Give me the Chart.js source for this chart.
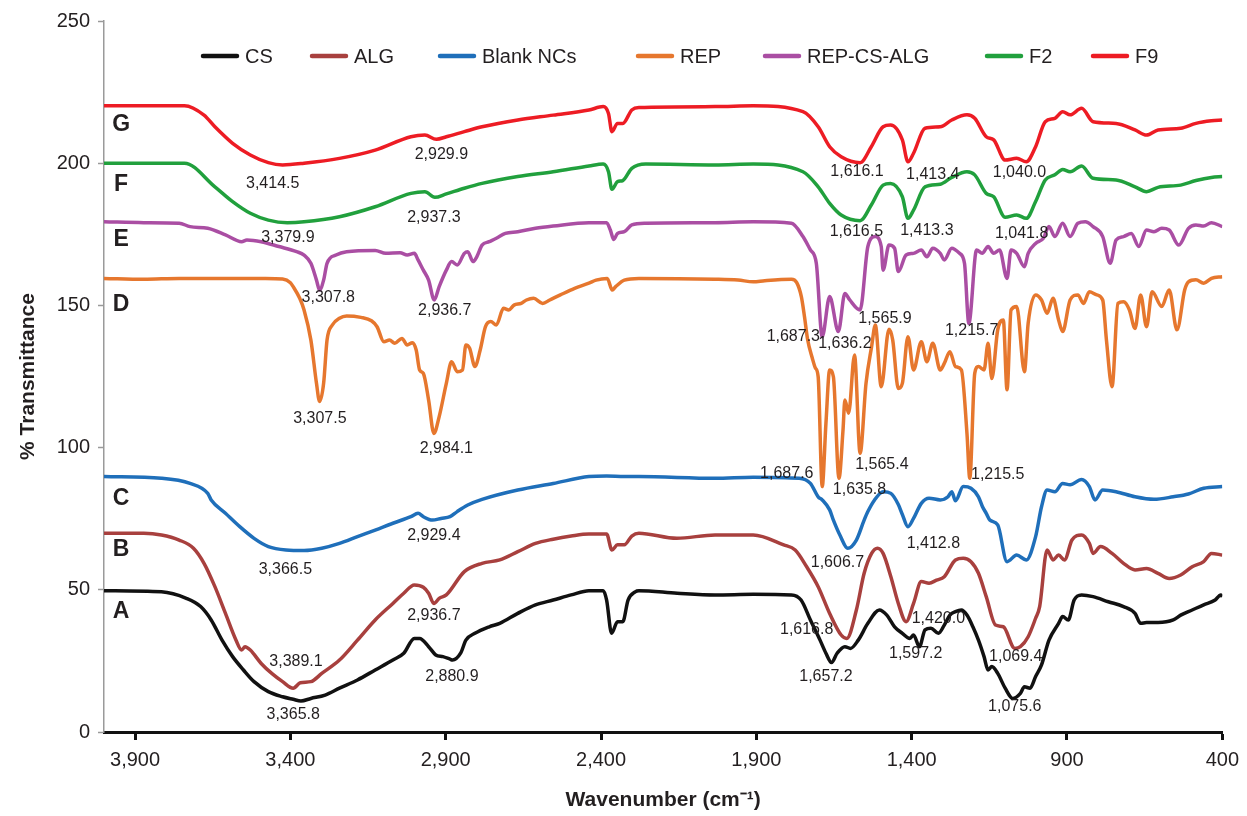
<!DOCTYPE html>
<html>
<head>
<meta charset="utf-8">
<title>FTIR spectra</title>
<script src="https://cdn.jsdelivr.net/npm/chart.js@4.4.1/dist/chart.umd.min.js"></script>
<style>
  html, body { margin: 0; padding: 0; background: #fff; }
  #wrap { width: 1247px; height: 816px; }
</style>
</head>
<body>
<div id="wrap"><canvas id="ftir" width="1247" height="816"></canvas></div>
<script>
// [wavenumber cm-1, % transmittance] – traces are stacked with their offsets already in
const CS = [[4000,49.7],[3815,49.3],[3735,47.0],[3689,44.1],[3655,39.4],[3620,32.3],[3586,26.5],[3551,21.8],[3517,17.7],[3471,14.2],[3425,12.4],[3391,11.5],[3366,10.9],[3334,11.8],[3288,13.0],[3242,15.4],[3184,18.3],[3127,21.8],[3070,25.3],[3035,27.7],[3001,32.9],[2984,32.9],[2955,30.0],[2932,27.1],[2909,26.5],[2886,25.6],[2878,25.3],[2852,27.7],[2835,32.3],[2806,34.7],[2760,37.0],[2726,38.2],[2668,41.7],[2611,44.7],[2554,46.4],[2496,48.2],[2439,49.7],[2393,49.7],[2382,46.4],[2366,34.7],[2347,38.8],[2330,38.8],[2313,46.4],[2290,49.3],[2278,49.7],[2155,48.8],[2033,48.2],[1910,48.4],[1787,48.2],[1756,46.4],[1726,39.4],[1695,32.3],[1676,27.7],[1658,24.4],[1640,27.7],[1615,30.0],[1597,29.4],[1572,32.3],[1541,38.2],[1504,42.9],[1480,41.1],[1455,37.0],[1430,34.7],[1406,32.9],[1394,34.1],[1375,30.0],[1357,35.9],[1338,36.5],[1314,34.7],[1295,37.6],[1277,41.1],[1259,42.3],[1240,42.9],[1222,41.1],[1203,37.0],[1185,32.3],[1167,26.5],[1154,21.8],[1142,23.0],[1123,20.6],[1099,15.4],[1075,11.8],[1050,13.6],[1037,15.9],[1019,15.4],[1001,19.5],[982,23.6],[958,32.3],[927,38.2],[914,40.6],[896,39.4],[877,46.4],[853,48.2],[816,47.6],[767,45.8],[718,44.1],[681,41.7],[663,38.2],[644,38.5],[607,38.5],[558,39.4],[534,41.1],[497,42.9],[460,44.7],[423,46.4],[405,48.2],[400,47.6]];

const ALG = [[4000,69.9],[3872,69.9],[3815,69.3],[3758,67.5],[3712,64.6],[3678,59.3],[3643,51.1],[3609,41.7],[3575,32.3],[3557,28.8],[3546,30.0],[3529,28.8],[3494,24.1],[3460,20.6],[3425,17.7],[3391,15.4],[3368,17.3],[3334,17.7],[3299,20.6],[3242,25.3],[3184,32.3],[3127,39.4],[3070,45.2],[3035,48.8],[3001,51.7],[2972,50.9],[2955,48.8],[2938,45.2],[2921,47.0],[2898,48.2],[2840,56.4],[2783,59.3],[2726,60.5],[2668,63.4],[2611,66.3],[2554,67.8],[2496,68.9],[2439,69.6],[2382,69.6],[2365,64.0],[2347,65.8],[2325,65.8],[2301,68.9],[2278,69.9],[2156,68.1],[2033,69.3],[1910,69.3],[1812,65.8],[1775,64.0],[1738,58.1],[1701,51.1],[1664,41.7],[1627,34.1],[1609,32.9],[1578,42.9],[1553,55.8],[1529,62.8],[1510,64.6],[1492,62.8],[1467,54.6],[1443,45.2],[1418,38.8],[1394,45.2],[1369,52.9],[1344,52.3],[1320,53.4],[1295,54.6],[1259,60.5],[1234,61.1],[1209,59.9],[1185,55.8],[1160,47.6],[1130,37.6],[1105,37.0],[1068,29.4],[1050,30.0],[1025,33.5],[1001,40.0],[988,44.1],[964,64.0],[945,60.5],[927,62.2],[908,60.5],[884,67.5],[853,69.3],[828,66.3],[816,62.8],[792,65.2],[755,62.8],[718,59.3],[681,57.0],[644,57.5],[607,55.8],[571,54.0],[534,55.2],[497,58.1],[460,59.9],[435,62.8],[400,62.2]];

const BLANK_NCS = [[4000,89.8],[3815,89.2],[3723,87.4],[3666,83.9],[3655,81.6],[3609,76.9],[3563,72.2],[3517,68.1],[3471,65.2],[3414,64.0],[3356,63.8],[3299,64.6],[3242,66.3],[3184,68.7],[3127,71.0],[3070,73.4],[3012,75.7],[2989,76.9],[2972,75.7],[2943,74.5],[2915,75.1],[2886,75.7],[2863,77.5],[2829,79.8],[2783,81.8],[2668,85.1],[2554,87.4],[2439,89.8],[2382,90.0],[2325,89.8],[2278,89.8],[2033,89.2],[1910,89.6],[1762,89.2],[1726,87.4],[1701,82.7],[1688,81.6],[1664,78.1],[1652,74.5],[1630,69.0],[1606,64.6],[1578,67.5],[1553,74.5],[1541,77.5],[1520,81.5],[1492,84.5],[1467,83.9],[1443,80.0],[1430,76.5],[1412,72.2],[1394,75.1],[1369,80.4],[1344,82.2],[1308,81.6],[1283,82.7],[1271,84.5],[1259,81.3],[1234,86.3],[1209,85.7],[1185,82.7],[1172,79.2],[1160,76.9],[1148,74.5],[1123,72.8],[1093,59.9],[1062,62.2],[1031,60.5],[1001,68.7],[982,79.2],[964,85.1],[939,84.5],[914,87.4],[890,86.9],[853,88.8],[828,86.3],[810,81.6],[785,85.1],[742,84.5],[681,82.7],[620,81.8],[558,82.7],[509,83.7],[460,85.7],[400,86.3]];

const REP = [[4000,159.5],[3872,159.2],[3758,159.5],[3600,159.5],[3480,159.5],[3425,159.3],[3400,158.0],[3391,156.6],[3370,152.5],[3356,148.4],[3334,137.8],[3316,122.6],[3306,116.2],[3293,122.6],[3282,137.8],[3265,143.1],[3242,145.5],[3219,146.3],[3173,145.8],[3139,144.6],[3121,142.5],[3099,137.2],[3081,137.8],[3064,136.7],[3041,138.4],[3024,136.1],[3007,136.9],[2995,134.3],[2984,127.3],[2972,126.1],[2955,116.7],[2938,105.0],[2921,110.9],[2898,122.6],[2881,130.2],[2863,126.7],[2846,127.3],[2835,136.1],[2823,134.9],[2806,128.5],[2789,134.3],[2772,142.5],[2755,144.3],[2737,143.1],[2714,149.0],[2697,148.4],[2680,150.1],[2657,150.7],[2640,151.9],[2617,152.5],[2588,150.7],[2565,151.9],[2531,153.7],[2485,156.0],[2439,157.8],[2416,158.9],[2380,159.5],[2364,155.4],[2353,156.6],[2325,158.9],[2278,159.5],[2033,159.2],[1959,158.9],[1910,158.3],[1873,158.7],[1787,159.2],[1770,158.0],[1755,153.0],[1745,146.0],[1735,138.0],[1720,131.5],[1710,128.0],[1701,124.9],[1688,86.3],[1676,108.5],[1664,127.3],[1652,124.9],[1634,89.2],[1621,106.2],[1615,116.7],[1603,112.1],[1584,132.6],[1566,98.0],[1547,122.6],[1529,135.5],[1517,143.1],[1498,121.4],[1473,141.6],[1461,137.8],[1443,120.8],[1430,122.6],[1412,139.0],[1394,127.3],[1369,137.2],[1351,130.2],[1332,136.7],[1308,127.3],[1295,129.6],[1277,133.7],[1259,128.5],[1240,127.3],[1222,105.0],[1213,89.2],[1197,126.1],[1185,128.5],[1167,127.3],[1154,136.7],[1142,124.3],[1123,141.4],[1105,144.9],[1093,120.3],[1080,148.4],[1062,149.6],[1037,126.7],[1025,143.7],[1001,153.7],[982,151.9],[964,147.2],[945,152.5],[927,144.9],[914,140.8],[890,151.9],[865,153.7],[847,150.7],[828,154.8],[804,153.7],[785,151.9],[773,137.8],[755,121.4],[736,150.7],[718,151.3],[699,148.4],[681,141.9],[663,153.7],[644,142.5],[626,154.8],[595,149.6],[571,155.4],[546,141.4],[521,155.5],[509,158.3],[485,159.0],[460,157.8],[435,159.5],[400,160.1]];

const REP_CS_ALG = [[4000,179.4],[3872,179.1],[3758,178.9],[3723,177.7],[3666,177.1],[3609,174.8],[3557,172.4],[3540,173.0],[3494,172.4],[3437,170.7],[3380,168.9],[3356,167.7],[3334,164.8],[3316,158.9],[3306,155.4],[3293,158.9],[3282,164.8],[3253,167.7],[3219,168.9],[3127,169.3],[3093,168.3],[3047,168.5],[3024,167.7],[3001,168.3],[2989,166.0],[2972,162.4],[2955,158.9],[2937,151.9],[2921,156.6],[2898,162.4],[2881,165.4],[2863,164.2],[2840,168.3],[2829,168.9],[2812,165.4],[2800,167.1],[2783,171.2],[2760,172.4],[2737,173.6],[2708,175.3],[2668,175.9],[2611,177.1],[2554,177.9],[2439,179.1],[2382,179.1],[2370,176.5],[2359,173.2],[2347,175.3],[2325,175.9],[2301,178.3],[2256,178.9],[2033,179.1],[1910,179.4],[1787,178.9],[1750,174.2],[1726,169.5],[1707,164.8],[1688,139.0],[1664,153.1],[1636,140.8],[1615,154.2],[1600,152.0],[1566,148.4],[1541,170.7],[1517,174.2],[1498,170.7],[1492,162.4],[1473,171.2],[1455,170.1],[1443,161.9],[1418,167.7],[1394,168.3],[1369,169.5],[1351,167.1],[1332,170.1],[1308,168.3],[1295,166.0],[1271,170.1],[1246,168.3],[1230,164.8],[1216,143.7],[1191,169.5],[1173,168.3],[1154,170.7],[1136,168.3],[1117,169.5],[1093,159.5],[1080,169.5],[1062,168.3],[1037,163.6],[1025,168.3],[1001,171.8],[976,173.6],[958,177.7],[939,174.2],[914,178.9],[890,174.2],[865,178.9],[841,179.4],[816,177.7],[785,174.2],[761,164.8],[742,173.0],[718,174.2],[693,175.3],[669,170.7],[644,176.5],[620,175.9],[595,177.1],[571,176.5],[540,171.2],[509,177.1],[485,178.3],[460,177.9],[435,179.1],[400,177.7]];

const F2 = [[4000,200.0],[3741,200.0],[3643,191.7],[3586,186.5],[3529,182.4],[3471,180.0],[3410,179.1],[3356,179.4],[3242,181.2],[3127,184.7],[3012,189.4],[2967,190.0],[2935,188.0],[2898,189.2],[2840,191.2],[2783,192.9],[2668,195.3],[2554,197.0],[2439,199.0],[2393,199.7],[2376,197.0],[2365,190.8],[2347,193.5],[2330,193.9],[2301,198.2],[2256,199.7],[2033,199.4],[1910,199.7],[1750,197.0],[1701,191.7],[1664,185.9],[1627,181.8],[1566,179.8],[1530,185.3],[1492,192.3],[1468,192.9],[1430,188.2],[1412,180.6],[1394,183.5],[1357,191.7],[1308,192.6],[1271,195.0],[1222,197.0],[1197,195.9],[1160,189.4],[1136,188.2],[1099,181.0],[1062,181.8],[1031,180.6],[1001,186.5],[970,194.1],[939,195.9],[914,197.8],[890,197.0],[853,199.0],[816,194.7],[742,194.1],[681,191.7],[644,190.0],[607,191.5],[534,192.3],[485,193.9],[435,195.0],[400,195.3]];

const F9 = [[4000,220.2],[3741,220.2],[3678,216.9],[3643,212.8],[3586,207.0],[3529,202.9],[3471,200.2],[3425,199.4],[3356,200.0],[3242,201.7],[3127,204.6],[3012,209.3],[2967,209.9],[2930,208.4],[2898,209.3],[2840,211.1],[2783,212.8],[2668,215.2],[2554,216.9],[2439,218.7],[2393,219.9],[2376,217.5],[2365,211.1],[2347,214.0],[2330,214.0],[2301,218.7],[2278,219.6],[2033,219.9],[1910,220.2],[1750,218.1],[1701,212.8],[1664,205.8],[1627,202.3],[1566,200.2],[1530,205.8],[1492,212.8],[1468,213.4],[1430,208.2],[1412,200.5],[1394,203.5],[1357,212.3],[1308,212.8],[1271,215.2],[1222,217.0],[1197,215.8],[1160,209.3],[1136,208.2],[1099,201.1],[1062,201.7],[1031,200.5],[1001,205.8],[970,214.6],[939,215.8],[914,218.1],[890,217.0],[853,219.3],[816,214.6],[742,214.0],[681,211.7],[644,209.9],[607,211.7],[534,212.3],[485,214.0],[435,214.9],[400,215.2]];

const seriesNames = ["CS", "ALG", "Blank NCs", "REP", "REP-CS-ALG", "F2", "F9"];
const seriesData = [CS, ALG, BLANK_NCS, REP, REP_CS_ALG, F2, F9];
const xTicks = [3900, 3400, 2900, 2400, 1900, 1400, 900, 400];

// trace letters, placed just under each baseline (letter, transmittance)
const rowLetters = [["A", 42.2], ["B", 64.0], ["C", 81.9], ["D", 150.1], ["E", 173.0], ["F", 192.3], ["G", 213.4]];

// peak annotations: text, wavenumber, transmittance where the text sits
const peakNotes = [
  ["2,929.9", 2914, 202.9], ["3,414.5", 3457, 192.7], ["2,937.3", 2938, 181.0], ["3,379.9", 3408, 173.9],
  ["3,307.8", 3278, 152.9], ["2,936.7", 2903, 148.1], ["3,307.5", 3305, 110.3], ["2,984.1", 2898, 99.5],
  ["3,366.5", 3416, 57.0], ["2,929.4", 2938, 68.9], ["2,936.7", 2938, 41.1], ["3,389.1", 3382, 24.7],
  ["2,880.9", 2880, 19.4], ["3,365.8", 3391, 6.0],
  ["1,616.1", 1576, 197.0], ["1,413.4", 1332, 195.9], ["1,040.0", 1053, 196.7],
  ["1,616.5", 1578, 175.9], ["1,413.3", 1351, 176.3], ["1,041.8", 1046, 175.4],
  ["1,687.3", 1781, 139.2], ["1,636.2", 1615, 136.4], ["1,565.9", 1486, 145.5], ["1,215.7", 1207, 141.1],
  ["1,687.6", 1802, 91.0], ["1,635.8", 1568, 85.1], ["1,565.4", 1496, 93.9], ["1,215.5", 1123, 90.4],
  ["1,606.7", 1639, 59.5], ["1,412.8", 1330, 66.4], ["1,616.8", 1738, 36.1], ["1,420.0", 1314, 40.0],
  ["1,597.2", 1387, 27.4], ["1,657.2", 1676, 19.4], ["1,069.4", 1065, 26.5], ["1,075.6", 1068, 8.9]
];

const colors = ["#111111", "#a8403e", "#1f6fba", "#e6772e", "#aa4ea3", "#21a03d", "#ed1c24"];
const legendX = [203, 312, 440, 638, 765, 987, 1093];

const FONT = '"Liberation Sans", Arial, Helvetica, sans-serif';
const INK = "#231f20";
Chart.defaults.font.family = FONT;
Chart.defaults.color = INK;

const overlay = {
  id: "overlay",
  afterDatasetsDraw(chart) {
    const { ctx, scales: { x, y } } = chart;
    ctx.save();

    // trace letters
    ctx.font = "bold 23px " + FONT;
    ctx.fillStyle = INK;
    ctx.textAlign = "center";
    ctx.textBaseline = "middle";
    rowLetters.forEach(([t, v]) => ctx.fillText(t, x.getPixelForValue(3945), y.getPixelForValue(v)));

    // peak positions
    ctx.font = "16px " + FONT;
    peakNotes.forEach(([t, wn, v]) => ctx.fillText(t, x.getPixelForValue(wn), y.getPixelForValue(v)));

    // legend row
    ctx.font = "20px " + FONT;
    ctx.textAlign = "left";
    ctx.lineCap = "round";
    ctx.lineWidth = 4.5;
    chart.data.datasets.forEach((ds, i) => {
      const lx = legendX[i];
      ctx.strokeStyle = ds.borderColor;
      ctx.beginPath();
      ctx.moveTo(lx, 56);
      ctx.lineTo(lx + 34, 56);
      ctx.stroke();
      ctx.fillStyle = INK;
      ctx.fillText(ds.label, lx + 42, 57);
    });
    ctx.restore();
  }
};

new Chart(document.getElementById("ftir").getContext("2d"), {
  type: "line",
  data: {
    datasets: seriesNames.map((name, i) => ({
      label: name,
      data: seriesData[i].map(([wn, t]) => ({ x: wn, y: t })),
      borderColor: colors[i],
      borderWidth: 3.5,
      pointRadius: 0,
      fill: false,
      cubicInterpolationMode: "monotone",
    })),
  },
  options: {
    responsive: false,
    animation: false,
    layout: { padding: { top: 21, right: 22, bottom: 0, left: 0 } },
    plugins: { legend: { display: false }, tooltip: { enabled: false } },
    scales: {
      x: {
        type: "linear",
        reverse: true,
        min: 400,
        max: 4000,
        afterBuildTicks: (scale) => { scale.ticks = xTicks.map((v) => ({ value: v })); },
        afterFit: (scale) => { scale.height = 84; },
        border: { display: true, color: "#111", width: 3 },
        grid: { drawOnChartArea: false, drawTicks: true, tickLength: 8, tickColor: "#111", tickWidth: 3 },
        ticks: {
          padding: 8,
          maxRotation: 0,
          font: { size: 20 },
          color: INK,
          callback: (v) => v.toLocaleString("en-US"),
        },
        title: {
          display: true,
          text: "Wavenumber (cm\u207B\u00B9)",
          font: { size: 21, weight: "bold" },
          color: INK,
          padding: { top: 0, bottom: 3 },
        },
      },
      y: {
        min: 0,
        max: 250,
        afterFit: (scale) => { scale.width = 104; },
        border: { display: true, color: "#9a9a9a", width: 1.5 },
        grid: { drawOnChartArea: false, drawTicks: true, tickLength: 6, tickColor: "#9a9a9a", tickWidth: 1.5 },
        ticks: { stepSize: 50, padding: 8, font: { size: 20 }, color: INK },
        title: {
          display: true,
          text: "% Transmittance",
          font: { size: 21, weight: "bold" },
          color: INK,
          padding: { top: 16, bottom: 0 },
        },
      },
    },
  },
  plugins: [overlay],
});
</script>
</body>
</html>
